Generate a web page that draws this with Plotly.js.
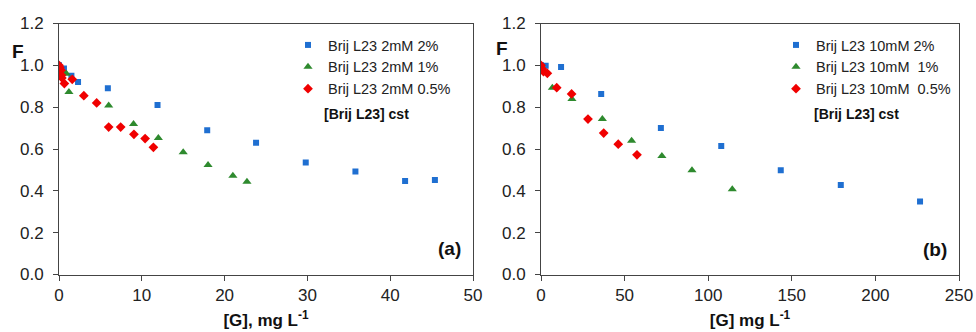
<!DOCTYPE html>
<html>
<head>
<meta charset="utf-8">
<script src="https://cdn.plot.ly/plotly-3.0.1.min.js"></script>
<style>html,body{margin:0;padding:0;background:#fff;}#chart{width:976px;height:332px;}</style>
</head>
<body>
<div id="chart"></div>
<script>
// Panel (a): [Brij L23] 2 mM
const a_blue_x  = [0, 0.6, 1.5, 2.3, 5.9, 11.9, 17.9, 23.8, 29.8, 35.8, 41.8, 45.4];
const a_blue_y  = [1.0, 0.985, 0.95, 0.92, 0.89, 0.81, 0.69, 0.63, 0.535, 0.493, 0.447, 0.452];
const a_green_x = [0, 0.5, 0.9, 1.2, 6.0, 9.0, 12.0, 15.0, 18.0, 21.0, 22.7];
const a_green_y = [1.0, 0.97, 0.96, 0.873, 0.808, 0.72, 0.653, 0.584, 0.523, 0.472, 0.444];
const a_red_x   = [0, 0.1, 0.25, 0.3, 0.35, 0.65, 1.6, 3.0, 4.55, 6.0, 7.45, 9.05, 10.4, 11.4];
const a_red_y   = [1.0, 0.99, 0.977, 0.953, 0.94, 0.913, 0.933, 0.855, 0.82, 0.705, 0.705, 0.67, 0.65, 0.608];
// Panel (b): [Brij L23] 10 mM
const b_blue_x  = [0, 2.8, 12, 36, 71.7, 107.8, 143.4, 179.3, 226.7];
const b_blue_y  = [1.0, 0.998, 0.992, 0.863, 0.70, 0.614, 0.499, 0.428, 0.349];
const b_green_x = [0, 6.8, 18.5, 36.7, 54.2, 72.3, 90.3, 114.4];
const b_green_y = [1.0, 0.893, 0.839, 0.743, 0.639, 0.567, 0.498, 0.408];
const b_red_x   = [0, 0.8, 1.5, 3.8, 9.4, 18.3, 28.1, 37.5, 46.2, 57.4];
const b_red_y   = [1.0, 0.982, 0.97, 0.962, 0.893, 0.863, 0.743, 0.676, 0.623, 0.572];

const names_a = ['Brij L23 2mM 2%', 'Brij L23 2mM 1%', 'Brij L23 2mM 0.5%'];
const names_b = ['Brij L23 10mM 2%', 'Brij L23 10mM  1%', 'Brij L23 10mM  0.5%'];
const y_ticks = [0, 0.2, 0.4, 0.6, 0.8, 1.0, 1.2];
const xa_ticks = [0, 10, 20, 30, 40, 50];
const xb_ticks = [0, 50, 100, 150, 200, 250];

const BLUE = '#1f6fd1', GREEN = '#2e8a2e', RED = '#f00000';
const FONT = 'Liberation Sans, Arial, sans-serif';

function tr(x, y, name, color, symbol, size, xa, ya, leg) {
  return {x: x, y: y, name: name, type: 'scatter', mode: 'markers',
    xaxis: xa, yaxis: ya, legend: leg,
    marker: {color: color, symbol: symbol, size: size, line: {width: 0}}};
}

const data = [
  tr(a_blue_x, a_blue_y, names_a[0], BLUE, 'square', 6, 'x', 'y', 'legend'),
  tr(a_green_x, a_green_y, names_a[1], GREEN, 'triangle-up', 8, 'x', 'y', 'legend'),
  tr(a_red_x, a_red_y, names_a[2], RED, 'diamond', 7.5, 'x', 'y', 'legend'),
  tr(b_blue_x, b_blue_y, names_b[0], BLUE, 'square', 6, 'x2', 'y2', 'legend2'),
  tr(b_green_x, b_green_y, names_b[1], GREEN, 'triangle-up', 8, 'x2', 'y2', 'legend2'),
  tr(b_red_x, b_red_y, names_b[2], RED, 'diamond', 7.5, 'x2', 'y2', 'legend2')
];

const W = 976, H = 332;
const px = v => v / W, py = v => 1 - v / H;

function xaxis(dom, rng, ticks, title, anchor) {
  return {domain: dom, range: rng, tickvals: ticks, ticktext: ticks.map(String),
    anchor: anchor, showgrid: false, zeroline: false, showline: true, mirror: true,
    linecolor: '#444', linewidth: 1, ticks: 'outside', ticklen: 5, tickcolor: '#444',
    tickfont: {family: FONT, size: 17, color: '#222'},
    title: {text: title, font: {family: FONT, size: 17, color: '#111'}, standoff: 10}};
}
function yaxis(anchor) {
  return {domain: [py(274.5), py(23.5)], range: [0, 1.2], tickvals: y_ticks,
    ticktext: y_ticks.map(v => v.toFixed(1)), anchor: anchor,
    showgrid: false, zeroline: false, showline: true, mirror: true,
    linecolor: '#444', linewidth: 1, ticks: 'outside', ticklen: 5, tickcolor: '#444',
    ticklabelstandoff: 6,
    tickfont: {family: FONT, size: 17, color: '#222'}};
}

function legend(xpx) {
  return {x: px(xpx), y: py(29), xanchor: 'left', yanchor: 'top',
    bgcolor: 'rgba(0,0,0,0)', borderwidth: 0, itemwidth: 30,
    tracegroupgap: 0, font: {family: FONT, size: 14.5, color: '#222'}};
}

function ann(text, x, y, size, xanchor) {
  return {text: text, xref: 'paper', yref: 'paper', x: px(x), y: py(y), showarrow: false,
    xanchor: xanchor, yanchor: 'middle', font: {family: FONT, size: size, color: '#111'}};
}

const layout = {
  width: W, height: H, margin: {l: 0, r: 0, t: 0, b: 0},
  paper_bgcolor: '#fff', plot_bgcolor: '#fff', showlegend: true,
  font: {family: FONT},
  xaxis: xaxis([px(59), px(473)], [0, 50], xa_ticks, '<b>[G], mg L<sup>-1</sup></b>', 'y'),
  yaxis: yaxis('x'),
  xaxis2: xaxis([px(541), px(959)], [0, 250], xb_ticks, '<b>[G] mg L<sup>-1</sup></b>', 'y2'),
  yaxis2: yaxis('x2'),
  legend: legend(288),
  legend2: legend(776),
  annotations: [
    ann('<b>F</b>', 18, 51, 19, 'center'),
    ann('<b>F</b>', 502, 48, 19, 'center'),
    ann('<b>[Brij L23] cst</b>', 322, 114, 14, 'left'),
    ann('<b>[Brij L23] cst</b>', 812, 114, 14, 'left'),
    ann('<b>(a)</b>', 463, 248, 19, 'right'),
    ann('<b>(b)</b>', 949, 249, 19, 'right')
  ]
};

Plotly.newPlot('chart', data, layout, {displayModeBar: false, staticPlot: true});
</script>
</body>
</html>
